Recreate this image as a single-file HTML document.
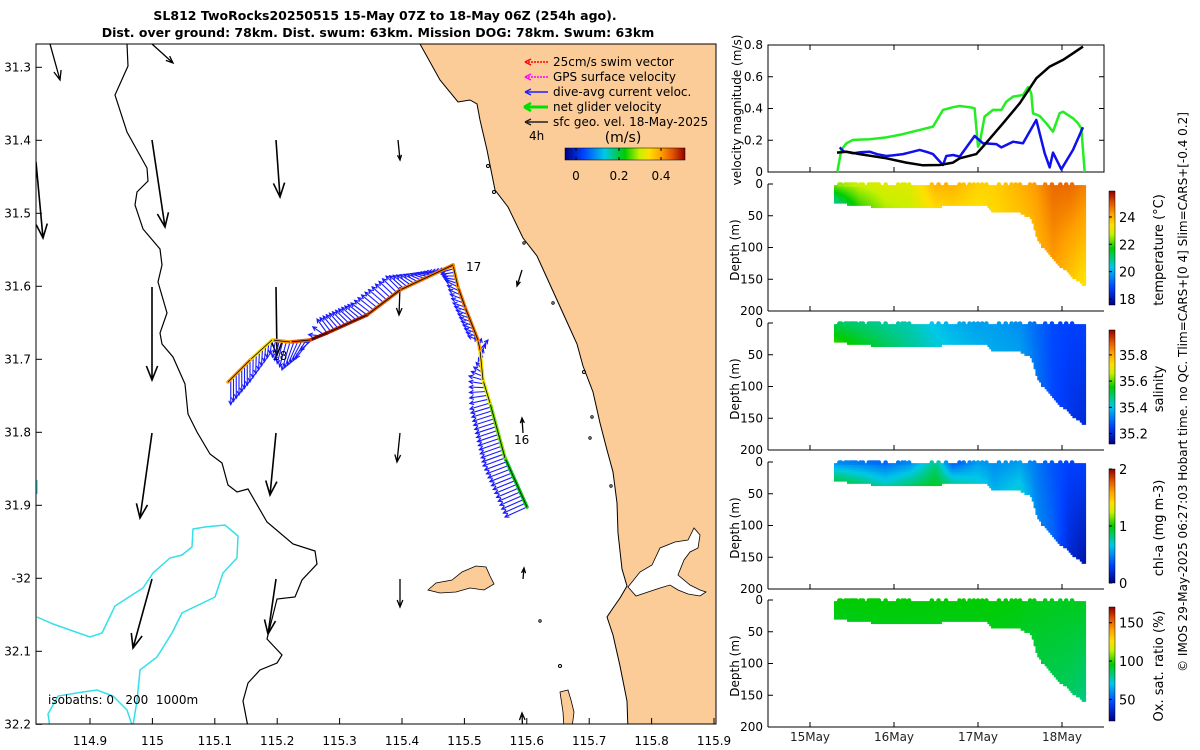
<!DOCTYPE html>
<html><head><meta charset="utf-8"><style>
html,body{margin:0;padding:0;background:#fff;}
svg{display:block;font-family:"DejaVu Sans","Liberation Sans",sans-serif;}
</style></head><body>
<svg id="fig" width="1200" height="750" viewBox="0 0 1200 750" xmlns="http://www.w3.org/2000/svg">
<defs>
<clipPath id="mapclip"><rect x="36" y="44" width="680" height="680"/></clipPath>
<linearGradient id="cmapH" x1="0" x2="1" y1="0" y2="0">
<stop offset="0" stop-color="#000080"/><stop offset="0.15" stop-color="#0040ff"/><stop offset="0.33" stop-color="#00c8e8"/><stop offset="0.5" stop-color="#00cc00"/><stop offset="0.62" stop-color="#c8f000"/><stop offset="0.7" stop-color="#ffe000"/><stop offset="0.8" stop-color="#ffa000"/><stop offset="0.9" stop-color="#e05000"/><stop offset="1" stop-color="#900000"/>
</linearGradient>
<linearGradient id="cmapV" x1="0" x2="0" y1="1" y2="0">
<stop offset="0" stop-color="#000080"/><stop offset="0.15" stop-color="#0040ff"/><stop offset="0.33" stop-color="#00c8e8"/><stop offset="0.5" stop-color="#00cc00"/><stop offset="0.62" stop-color="#c8f000"/><stop offset="0.7" stop-color="#ffe000"/><stop offset="0.8" stop-color="#ffa000"/><stop offset="0.9" stop-color="#e05000"/><stop offset="1" stop-color="#900000"/>
</linearGradient>
</defs>
<text x="385" y="20" text-anchor="middle" font-size="12.5" font-weight="bold">SL812 TwoRocks20250515 15-May 07Z to 18-May 06Z (254h ago).</text>
<text x="378" y="37" text-anchor="middle" font-size="12.5" font-weight="bold">Dist. over ground: 78km. Dist. swum: 63km. Mission DOG: 78km. Swum: 63km</text>

<g id="map">
<g clip-path="url(#mapclip)">
<polygon fill="#fbcb98" stroke="#000" stroke-width="1"
points="420,44 440,80 458,102 470,100 477,104 480,120 487,150 495,190 508,207 523,238 537,256 547,278 557,300 567,322 577,344 583,366 593,392 600,423 607,450 613,472 617,503 618,533 622,569 627,586 620,598 613,608 607,617 613,635 620,666 627,701 628,730 730,730 730,40 420,40"/>
<path fill="#fff" stroke="#000" stroke-width="0.8" d="M628,587 L640,572 L652,565 L660,548 L675,542 L688,540 L694,528 L700,535 L698,548 L690,552 L684,560 L678,575 L690,585 L700,590 L706,592 L700,596 L688,594 L678,590 L670,585 L660,588 L648,592 L636,596 Z"/>
<polygon fill="#fbcb98" stroke="#000" stroke-width="0.8" points="428,590 436,583 452,580 462,572 476,566 486,567 490,576 494,584 484,590 470,588 456,592 440,593"/>
<polygon fill="#fbcb98" stroke="#000" stroke-width="0.8" points="560,692 568,690 571,700 574,712 572,728 564,728 563,712"/>
<g fill="none" stroke="#000" stroke-width="1">
<circle cx="488" cy="166" r="1.5"/><circle cx="494" cy="192" r="1.5"/><circle cx="524" cy="243" r="1.2"/><circle cx="553" cy="303" r="1.2"/><circle cx="584" cy="372" r="1.5"/><circle cx="592" cy="417" r="1.2"/><circle cx="590" cy="438" r="1.2"/><circle cx="611" cy="486" r="1.2"/><circle cx="540" cy="621" r="1.2"/><circle cx="560" cy="666" r="1.5"/>
</g>
<polyline fill="none" stroke="#000" stroke-width="1.2"
points="127,44 128,66 115,95 127,132 147,168 148,181 137,192 135,205 143,229 160,249 162,265 158,282 167,313 160,333 162,344 173,357 185,384 188,414 197,432 210,454 222,463 228,485 237,492 248,489 267,522 293,544 315,551 317,564 302,580 295,597 277,599 267,639 282,655 277,663 260,670 248,683 243,701 248,727"/>
<polyline fill="none" stroke="#33e0e8" stroke-width="1.5"
points="37,617 53,624 90,637 102,633 115,606 143,588 153,573 170,558 182,555 192,547 193,529 205,527 225,525 238,536 237,558 223,573 215,597 182,613 172,633 157,657 140,670 137,701 133,725"/>
<polyline fill="none" stroke="#33e0e8" stroke-width="1.5"
points="50,727 48,714 58,696 83,692 97,690 113,696 127,710 132,725"/>
<polyline fill="none" stroke="#33e0e8" stroke-width="1.5" points="37,480 37,494"/>
<g id="geoArrows"></g>
<g id="blueArrows"></g>
<g id="track"></g>
<text x="466" y="271" font-size="12">17</text>
<text x="514" y="444" font-size="12">16</text>
<text x="272" y="360" font-size="12">18</text>
<text x="48" y="704" font-size="12" style="white-space:pre" xml:space="preserve">isobaths: 0   200  1000m</text>
</g>
<rect x="36" y="44" width="680" height="680" fill="none" stroke="#000" stroke-width="1"/>
<g id="mapTicks"></g>
<g font-size="12">
<line x1="525" y1="62" x2="548" y2="62" stroke="#f00" stroke-width="1.5" stroke-dasharray="2,1"/><path d="M525,62 l6,-3 M525,62 l6,3" stroke="#f00" stroke-width="1.5"/>
<text x="553" y="66">25cm/s swim vector</text>
<line x1="525" y1="77" x2="548" y2="77" stroke="#f0f" stroke-width="1.5" stroke-dasharray="2,1"/><path d="M525,77 l6,-3 M525,77 l6,3" stroke="#f0f" stroke-width="1.5"/>
<text x="553" y="81">GPS surface velocity</text>
<line x1="525" y1="92" x2="548" y2="92" stroke="#2020ff" stroke-width="1.5"/><path d="M525,92 l6,-3 M525,92 l6,3" stroke="#2020ff" stroke-width="1.5"/>
<text x="553" y="96">dive-avg current veloc.</text>
<line x1="525" y1="107" x2="548" y2="107" stroke="#00e000" stroke-width="3"/><path d="M524,107 l7,-4 M524,107 l7,4" stroke="#00e000" stroke-width="2.5"/>
<text x="553" y="111">net glider velocity</text>
<line x1="525" y1="122" x2="548" y2="122" stroke="#222" stroke-width="1.5"/><path d="M525,122 l6,-3 M525,122 l6,3" stroke="#222" stroke-width="1.5"/>
<text x="553" y="126">sfc geo. vel. 18-May-2025</text>
<text x="529" y="140">4h</text>
<text x="623" y="142" text-anchor="middle" font-size="14">(m/s)</text>
<rect x="565" y="148" width="120" height="12" fill="url(#cmapH)" stroke="#000" stroke-width="0.5"/>
<path d="M576,148 v3 M576,160 v-3 M619,148 v3 M619,160 v-3 M661,148 v3 M661,160 v-3" stroke="#000"/>
<text x="576" y="180" text-anchor="middle">0</text><text x="619" y="180" text-anchor="middle">0.2</text><text x="661" y="180" text-anchor="middle">0.4</text>
</g>
</g>

<g id="right"></g>
<text transform="translate(1187,392) rotate(-90)" text-anchor="middle" font-size="12">© IMOS 29-May-2025 06:27:03 Hobart time. no QC. Tlim=CARS+[0 4] Slim=CARS+[-0.4 0.2]</text>
</svg>
<script>
// ===== Velocity panel data =====
const greenT=[15.325,15.373,15.433,15.512,15.710,15.909,16.107,16.306,16.464,16.583,16.702,16.782,16.901,16.960,17.000,17.020,17.079,17.179,17.278,17.337,17.417,17.536,17.595,17.635,17.655,17.734,17.813,17.893,17.972,18.012,18.131,18.190,18.230,18.270];
const greenV=[0,0.139,0.181,0.202,0.206,0.218,0.239,0.265,0.286,0.391,0.408,0.416,0.408,0.401,0.160,0.181,0.349,0.391,0.391,0.443,0.475,0.485,0.534,0.496,0.370,0.353,0.307,0.254,0.370,0.380,0.338,0.307,0.275,0];
const blueT=[15.353,15.40,15.45,15.512,15.60,15.710,15.80,15.909,16.0,16.107,16.2,16.306,16.40,16.464,16.583,16.623,16.702,16.782,16.960,17.060,17.218,17.278,17.417,17.536,17.694,17.794,17.853,17.893,17.992,18.131,18.250];
const blueV=[0.155,0.13,0.125,0.118,0.125,0.128,0.112,0.101,0.106,0.113,0.125,0.139,0.125,0.113,0.044,0.101,0.107,0.097,0.227,0.181,0.176,0.155,0.191,0.181,0.328,0.118,0.029,0.122,0.017,0.139,0.282];
const blackT=[15.321,15.433,15.591,15.909,16.147,16.345,16.544,16.702,16.782,16.980,17.060,17.298,17.496,17.694,17.853,18.012,18.131,18.250];
const blackV=[0.122,0.128,0.113,0.086,0.059,0.042,0.044,0.059,0.086,0.113,0.160,0.307,0.433,0.590,0.664,0.706,0.748,0.790];
const velTicks=[0,0.2,0.4,0.6,0.8];
const dayTicks=[15,16,17,18];
const dayLabels=["15May","16May","17May","18May"];
// ===== Section data =====
const bdT=[15.30,15.91,16.70,17.10,17.18,17.50,17.64,17.70,17.77,17.89,17.97,18.09,18.15,18.27];
const bdD=[30,38,35,35,45,45,55,85,100,115,130,140,150,160];
const secT=[15.3,15.6,15.9,16.2,16.5,16.7,17.0,17.2,17.5,17.7,17.9,18.1,18.27];
const tempTop=[22.4,22.8,23.0,23.0,24.0,24.0,23.6,23.6,24.0,24.3,24.8,24.8,24.6];
const tempBot=[20.8,22.0,22.6,22.8,23.5,23.6,23.4,23.5,23.8,24.0,24.3,23.8,23.3];
const salTop=[35.50,35.48,35.46,35.44,35.40,35.38,35.36,35.36,35.34,35.30,35.26,35.25,35.25];
const salBot=[35.58,35.54,35.50,35.46,35.42,35.40,35.38,35.37,35.36,35.31,35.26,35.23,35.21];
const chlTop=[0.5,0.45,0.4,0.5,0.8,0.35,0.55,0.5,0.55,0.45,0.35,0.3,0.3];
const chlBot=[0.9,0.85,0.75,0.85,0.95,0.8,0.7,0.6,0.7,0.5,0.4,0.2,0.1];
const oxTop=[96,96,96,96,96,96,96,96,95,94,93,93,93];
const oxBot=[93,94,94,94,94,94,94,94,93,90,88,86,82];
const surfT=[15.35,15.37,15.42,15.44,15.47,15.49,15.51,15.53,15.55,15.6,15.63,15.7,15.72,15.74,15.76,15.78,15.8,15.82,15.9,16.05,16.1,16.13,16.18,16.45,16.53,16.62,16.78,16.83,16.9,16.95,17.0,17.05,17.1,17.25,17.33,17.4,17.45,17.5,17.62,17.67,17.8,17.88,17.98,18.05,18.12];
const depthTicks=[0,50,100,150,200];

const NS="http://www.w3.org/2000/svg";
function mk(tag,attrs,parent){const e=document.createElementNS(NS,tag);for(const k in attrs)e.setAttribute(k,attrs[k]);if(parent)parent.appendChild(e);return e;}
function interp(xs,ys,x){if(x<=xs[0])return ys[0];for(let i=1;i<xs.length;i++){if(x<=xs[i]){const f=(x-xs[i-1])/(xs[i]-xs[i-1]);return ys[i-1]+f*(ys[i]-ys[i-1]);}}return ys[ys.length-1];}
const stops=[[0,[0,0,128]],[0.15,[0,64,255]],[0.33,[0,200,232]],[0.5,[0,204,0]],[0.62,[200,240,0]],[0.7,[255,224,0]],[0.8,[255,160,0]],[0.9,[224,80,0]],[1,[144,0,0]]];
function cmap(v){v=Math.max(0,Math.min(1,v));for(let i=1;i<stops.length;i++){if(v<=stops[i][0]){const f=(v-stops[i-1][0])/(stops[i][0]-stops[i-1][0]);const a=stops[i-1][1],b=stops[i][1];return `rgb(${Math.round(a[0]+f*(b[0]-a[0]))},${Math.round(a[1]+f*(b[1]-a[1]))},${Math.round(a[2]+f*(b[2]-a[2]))})`;}}return "rgb(144,0,0)";}

// ===== Map axes =====
(function(){
  const g=document.getElementById('mapTicks');
  const lonTicks=[114.9,115,115.1,115.2,115.3,115.4,115.5,115.6,115.7,115.8,115.9];
  const latTicks=[31.3,31.4,31.5,31.6,31.7,31.8,31.9,32.0,32.1,32.2];
  const X=lon=>90+(lon-114.9)*624, Y=lat=>67.3+(lat-31.3)*730;
  lonTicks.forEach(l=>{const x=X(l);mk('line',{x1:x,y1:724,x2:x,y2:718,stroke:'#000'},g);
    const t=mk('text',{x:x,y:745,'text-anchor':'middle','font-size':12},g);t.textContent=(l===115?'115':l.toFixed(1));});
  latTicks.forEach(l=>{const y=Y(l);mk('line',{x1:36,y1:y,x2:42,y2:y,stroke:'#000'},g);
    const t=mk('text',{x:31,y:y+4,'text-anchor':'end','font-size':12},g);t.textContent=(l===32?'-32':l.toFixed(1));});
})();

// ===== Geostrophic arrows (map) =====
const geoStart=[[50,44],[152,44],[152,140],[276,140],[398,140],[36,162],[152,287],[276,287],[400,287],[522,270],[152,433],[276,433],[400,433],[523,433],[152,579],[276,579],[400,579],[523,579],[523,741]];
const geoEnd=[[60,80],[173,63],[165,227],[280,197],[400,160],[43,238],[152,380],[277,355],[399,315],[517,286],[140,518],[270,495],[397,462],[522,418],[133,648],[268,634],[400,607],[524,568],[522,713]];
(function(){
  const g=document.getElementById('geoArrows');
  geoStart.forEach((s,i)=>{const e=geoEnd[i];const dx=e[0]-s[0],dy=e[1]-s[1];const L=Math.hypot(dx,dy);const ux=dx/L,uy=dy/L;const h=Math.min(14,Math.max(5,L*0.25));
    const a=mk('path',{d:`M${s[0]},${s[1]} L${e[0]},${e[1]} M${e[0]-h*ux+h*0.4*uy},${e[1]-h*uy-h*0.4*ux} L${e[0]},${e[1]} L${e[0]-h*ux-h*0.4*uy},${e[1]-h*uy+h*0.4*ux}`,stroke:'#000','stroke-width':L>40?1.6:1.3,fill:'none'},g);
    
    });
})();

// ===== Glider track (time order) =====
const trackPts=[[527,507],[505,458],[490,403],[483,380],[480,350],[478,340],[465,307],[458,287],[453,265],[400,290],[367,315],[327,333],[310,340],[290,342],[272,340],[250,360],[228,382]];
const trackSpd=[0.22,0.26,0.30,0.33,0.37,0.40,0.40,0.38,0.40,0.42,0.45,0.47,0.42,0.38,0.32,0.37,0.33];
const curDx=[-22,-22,-20,-14,8,-10,-12,-12,-14,-14,-16,-10,-14,-8,-2,0,0];
const curDy=[10,8,6,-4,-10,-4,-4,-6,6,-14,-12,-14,18,28,14,22,26];
(function(){
  const gb=document.getElementById('blueArrows');const gt=document.getElementById('track');
  for(let i=0;i<trackPts.length-1;i++){
    const a=trackPts[i],b=trackPts[i+1];const L=Math.hypot(b[0]-a[0],b[1]-a[1]);const n=Math.max(2,Math.round(L/4));
    for(let k=0;k<n;k++){const f=k/n;const x=a[0]+f*(b[0]-a[0]),y=a[1]+f*(b[1]-a[1]);
      const dx=curDx[i]+f*(curDx[i+1]-curDx[i]),dy=curDy[i]+f*(curDy[i+1]-curDy[i]);
      const ex=x+dx,ey=y+dy;const l=Math.hypot(dx,dy)||1;const ux=dx/l,uy=dy/l;
      const p=mk('path',{d:`M${x},${y} L${ex},${ey} M${ex-4*ux+2*uy},${ey-4*uy-2*ux} L${ex},${ey} L${ex-4*ux-2*uy},${ey-4*uy+2*ux}`,stroke:'#1a1aff','stroke-width':1.1,fill:'none'},gb);
      
      }
    const s=mk('line',{x1:a[0],y1:a[1],x2:b[0],y2:b[1],stroke:cmap(trackSpd[i]/0.5+0.05),'stroke-width':3.5,'stroke-linecap':'round'},gt);
    
    
    mk('line',{x1:a[0],y1:a[1],x2:b[0],y2:b[1],stroke:'#000','stroke-width':0.8},gt);
  }
})();

// ===== Right-hand panels =====
const R=document.getElementById('right');
const X0=768,X1=1104;const tx=t=>X0+(t-14.5)*84;
function txt(x,y,s,opt,parent){const t=mk('text',Object.assign({x:x,y:y,'font-size':12},opt||{}),parent||R);t.textContent=s;return t;}
(function(){
  const top=45,bot=172;const vy=v=>bot-(v/0.8)*(bot-top);
  const g=mk('g',{},R);
  mk('rect',{x:X0,y:top,width:X1-X0,height:bot-top,fill:'none',stroke:'#000'},g);
  velTicks.forEach(v=>{const y=vy(v);mk('line',{x1:X0,y1:y,x2:X0+5,y2:y,stroke:'#000'},g);mk('line',{x1:X1,y1:y,x2:X1-5,y2:y,stroke:'#000'},g);txt(763,y+4,v===0?'0':v.toFixed(1),{'text-anchor':'end'},g);});
  dayTicks.forEach(d=>{mk('line',{x1:tx(d),y1:bot,x2:tx(d),y2:bot-5,stroke:'#000'},g);mk('line',{x1:tx(d),y1:top,x2:tx(d),y2:top+5,stroke:'#000'},g);});
  txt(0,0,'velocity magnitude (m/s)',{'text-anchor':'middle',transform:`translate(741,110) rotate(-90)`},g);
  [[greenT,greenV,'#22ee22','green-net-velocity-line'],[blueT,blueV,'#1010ee','blue-current-line'],[blackT,blackV,'#000','black-geo-velocity-line']].forEach(s=>{
    const pts=s[0].map((t,i)=>`${tx(t).toFixed(1)},${vy(s[1][i]).toFixed(1)}`).join(' ');
    const p=mk('polyline',{points:pts,fill:'none',stroke:s[2],'stroke-width':2.5,'stroke-linejoin':'round'},g);
    
    });
})();
function section(top,name,topArr,botArr,vmin,vmax,cbTicks,cbLabels,title,last){
  const bot=top+127;const dy=d=>top+d/200*127;
  const g=mk('g',{},R);
  const cells=mk('g',{},g);
  for(let t=15.30;t<=18.27;t+=0.022){
    const md=interp(bdT,bdD,t);const vt=interp(secT,topArr,t),vb=interp(secT,botArr,t);
    for(let d=4;d<=md;d+=3.5){const f=d/md;const v=vt+f*(vb-vt);
      mk('rect',{x:tx(t)-1.2,y:dy(d)-1.4,width:2.6,height:2.9,fill:cmap((v-vmin)/(vmax-vmin))},cells);}
  }
  surfT.forEach(t=>{const v=interp(secT,topArr,t);const c=mk('circle',{cx:tx(t),cy:dy(0)+0.5,r:2.3,fill:cmap((v-vmin)/(vmax-vmin))},g);
    });
  mk('line',{x1:X0,y1:top,x2:X0,y2:bot,stroke:'#000'},g);
  mk('line',{x1:X0,y1:bot,x2:X1,y2:bot,stroke:'#000'},g);
  depthTicks.forEach(d=>{const y=dy(d);mk('line',{x1:X0,y1:y,x2:X0+5,y2:y,stroke:'#000'},g);txt(763,y+4,String(d),{'text-anchor':'end'},g);});
  dayTicks.forEach((d,i)=>{mk('line',{x1:tx(d),y1:bot,x2:tx(d),y2:bot-5,stroke:'#000'},g);if(last)txt(tx(d),bot+14,dayLabels[i],{'text-anchor':'middle',fill:'#222'},g);});
  txt(0,0,'Depth (m)',{'text-anchor':'middle',transform:`translate(739,${top+66}) rotate(-90)`},g);
  const cbT=top+7,cbB=bot-6;const cy=v=>cbB-(v-vmin)/(vmax-vmin)*(cbB-cbT);
  const cb=mk('rect',{x:1109,y:cbT,width:6,height:cbB-cbT,fill:'url(#cmapV)',stroke:'#000','stroke-width':0.5},g);
  
  cbTicks.forEach((v,i)=>{const y=cy(v);mk('line',{x1:1109,y1:y,x2:1112,y2:y,stroke:'#000'},g);txt(1119,y+5,cbLabels[i],{'font-size':13},g);});
  txt(0,0,title,{'text-anchor':'middle','font-size':13,transform:`translate(1163,${top+66}) rotate(-90)`},g);
}
section(184,'temperature-section',tempTop,tempBot,17.56,25.9,[18,20,22,24],['18','20','22','24'],'temperature (°C)',false);
section(323,'salinity-section',salTop,salBot,35.12,35.99,[35.2,35.4,35.6,35.8],['35.2','35.4','35.6','35.8'],'salinity',false);
section(462,'chlorophyll-section',chlTop,chlBot,0,2,[0,1,2],['0','1','2'],'chl-a (mg m-3)',false);
section(600,'oxygen-section',oxTop,oxBot,21.8,170.5,[50,100,150],['50','100','150'],'Ox. sat. ratio (%)',true);
</script>
</body></html>
